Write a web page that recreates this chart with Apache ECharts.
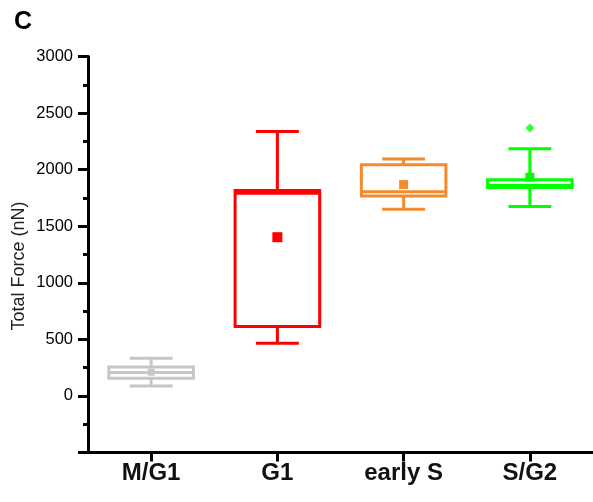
<!DOCTYPE html>
<html>
<head>
<meta charset="utf-8">
<script src="https://cdn.jsdelivr.net/npm/echarts@6/dist/echarts.min.js"></script>
<style>
html,body{margin:0;padding:0;background:#fff;}
#chart{width:593px;height:502px;}
</style>
</head>
<body>
<div id="chart"></div>
<script>
const categories = ['M/G1', 'G1', 'early S', 'S/G2'];
const minVals    = [88, 466, 1651, 1674];
const q1Vals     = [156, 613, 1768, 1843];
const medianVals = [208, 1792, 1804, 1861];
const q3Vals     = [256, 1815, 2044, 1910];
const maxVals    = [333, 2337, 2093, 2184];
const meanVals   = [210, 1403, 1868, 1932];
const outlierCat = [3];
const outlierVal = [2367];
const boxColors  = ['#c6c6c6', '#ff0000', '#f28a30', '#00ff00'];
const meanSizes  = [7, 10, 9, 9];
const yMin = -500, yMax = 3000, yInterval = 500;

const FONT = '"Liberation Sans", Arial, Helvetica, sans-serif';

const boxData = categories.map((c, i) => [i, minVals[i], q1Vals[i], medianVals[i], q3Vals[i], maxVals[i], meanVals[i]]);
const outlierData = outlierCat.map((c, i) => [c, outlierVal[i]]);

function renderItem(params, api) {
  const idx = api.value(0);
  const band = api.size([1, 0])[0];
  const bw = band * 0.67;
  const cw = band * 0.34;
  const x = api.coord([idx, 0])[0];
  const y = k => api.coord([idx, api.value(k)])[1];
  const yLo = y(1), yQ1 = y(2), yMed = y(3), yQ3 = y(4), yHi = y(5), yMean = y(6);
  const color = boxColors[idx];
  const ls = {stroke: color, lineWidth: 3, fill: null, lineCap: 'butt'};
  const s = meanSizes[idx];
  return {
    type: 'group',
    children: [
      {type: 'line', shape: {x1: x, y1: yHi, x2: x, y2: yQ3}, style: ls},
      {type: 'line', shape: {x1: x, y1: yQ1, x2: x, y2: yLo}, style: ls},
      {type: 'line', shape: {x1: x - cw / 2, y1: yHi, x2: x + cw / 2, y2: yHi}, style: ls},
      {type: 'line', shape: {x1: x - cw / 2, y1: yLo, x2: x + cw / 2, y2: yLo}, style: ls},
      {type: 'rect', shape: {x: x - bw / 2, y: yQ3, width: bw, height: yQ1 - yQ3}, style: ls},
      {type: 'line', shape: {x1: x - bw / 2, y1: yMed, x2: x + bw / 2, y2: yMed}, style: ls},
      {type: 'rect', shape: {x: x - s / 2, y: yMean - s / 2, width: s, height: s}, style: {fill: color, stroke: null}}
    ]
  };
}

const chart = echarts.init(document.getElementById('chart'), null, {renderer: 'canvas'});
chart.setOption({
  animation: false,
  backgroundColor: '#ffffff',
  title: {
    text: 'C', left: 9, top: 5,
    textStyle: {fontFamily: FONT, fontSize: 25, fontWeight: 'bold', color: '#000'}
  },
  grid: {left: 88, right: -4, top: 56.5, bottom: 49.5, containLabel: false},
  xAxis: {
    type: 'category',
    data: categories,
    axisLine: {onZero: false, lineStyle: {color: '#000', width: 3}},
    axisTick: {show: true, alignWithLabel: true, length: 9, lineStyle: {color: '#000', width: 3}},
    axisLabel: {margin: 9, fontFamily: FONT, fontSize: 24, fontWeight: 'bold', color: '#111'},
    splitLine: {show: false}
  },
  yAxis: {
    type: 'value',
    min: yMin, max: yMax, interval: yInterval,
    axisLine: {show: true, lineStyle: {color: '#000', width: 3}},
    axisTick: {show: true, length: 10, lineStyle: {color: '#000', width: 3}},
    minorTick: {show: true, splitNumber: 2, length: 5, lineStyle: {color: '#000', width: 3}},
    axisLabel: {
      margin: 15, fontFamily: FONT, fontSize: 16.5, color: '#000',
      formatter: v => (v < 0 ? '' : String(v))
    },
    splitLine: {show: false}
  },
  graphic: [{
    type: 'text',
    x: 19, y: 266,
    rotation: Math.PI / 2,
    style: {text: 'Total Force (nN)', font: '18px ' + FONT, fill: '#222', textAlign: 'center', textVerticalAlign: 'middle'}
  }],
  series: [
    {
      type: 'custom',
      renderItem: renderItem,
      data: boxData,
      encode: {x: 0, y: [1, 2, 3, 4, 5, 6]},
      z: 3
    },
    {
      type: 'scatter',
      data: outlierData,
      symbol: 'diamond',
      symbolSize: 9,
      itemStyle: {color: '#00ff00'},
      z: 4
    }
  ]
});
</script>
</body>
</html>
